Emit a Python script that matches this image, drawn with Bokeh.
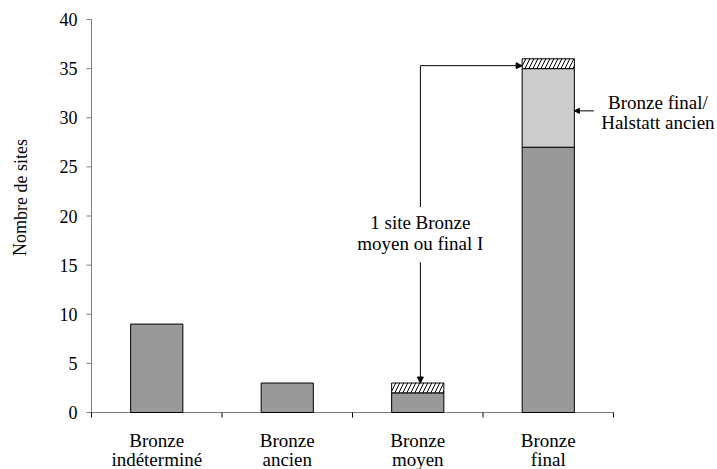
from bokeh.plotting import figure
from bokeh.models import (ColumnDataSource, Arrow, NormalHead, Range1d)
from bokeh.core.properties import value
from bokeh.embed import file_html
from bokeh.resources import INLINE

# ---- data ----
categories = ["Bronze\nindéterminé", "Bronze\nancien", "Bronze\nmoyen", "Bronze\nfinal"]
bronze = [9, 3, 2, 27]            # dark grey
bf_halstatt = [0, 0, 0, 8]        # light grey: Bronze final / Halstatt ancien
incertain = [0, 0, 1, 1]          # hatched: 1 site Bronze moyen ou final I
y_ticks = [0, 5, 10, 15, 20, 25, 30, 35, 40]
y_label = "Nombre de sites"
note_uncertain = ["1 site Bronze", "moyen ou final I"]
note_halstatt = ["Bronze final/", "Halstatt ancien"]

FONT = value("Liberation Serif")
W = 0.4
n = len(categories)
xs = list(range(n))

# whole canvas is the frame; axes are drawn by hand so nothing is clipped
PXX = 130.5   # px per category
PXY = 9.825   # px per site
FW, FH = 717, 469
x0 = -0.5 - 91 / PXX
x1 = x0 + FW / PXX
y1 = 40 + 19 / PXY
y0 = y1 - FH / PXY

p = figure(width=FW, height=FH, output_backend="svg", toolbar_location=None,
           x_range=Range1d(x0, x1), y_range=Range1d(y0, y1), min_border=0)
p.outline_line_color = None
p.xaxis.visible = False
p.yaxis.visible = False
p.xgrid.visible = False
p.ygrid.visible = False
p.background_fill_color = "white"
p.border_fill_color = "white"

AX = "#7f7f7f"
xl, xr = -0.5, n - 0.5
ymax = y_ticks[-1]

# axis lines
p.segment(x0=[xl, xl], y0=[0, 0], x1=[xl, xr], y1=[ymax, 0], line_color=AX, line_width=1)
# y ticks
tick_dx = 5 / PXX
p.segment(x0=[xl - tick_dx] * len(y_ticks), y0=y_ticks, x1=[xl] * len(y_ticks), y1=y_ticks,
          line_color=AX, line_width=1)
p.text(x=[xl] * len(y_ticks), y=y_ticks, text=[str(t) for t in y_ticks], x_offset=-14,
       text_align="right", text_baseline="middle", text_font=FONT,
       text_font_size="18px", text_color="black")
# x ticks (category boundaries)
bounds = [i - 0.5 for i in range(n + 1)]
tick_dy = 5 / PXY
p.segment(x0=bounds, y0=[0] * len(bounds), x1=bounds, y1=[-tick_dy] * len(bounds),
          line_color="black", line_width=1)

# category labels
line1 = [c.split("\n")[0] for c in categories]
line2 = [c.split("\n")[1] for c in categories]
for lab, off in ((line1, 28), (line2, 47)):
    p.text(x=xs, y=[0] * n, text=lab, y_offset=off, text_align="center",
           text_baseline="middle", text_font=FONT, text_font_size="19px", text_color="black")

# y axis title
p.text(x=[(20 - 91) / PXX - 0.5], y=[(412 - 197) / PXY], text=[y_label], angle=1.5707963,
       text_align="center", text_baseline="middle", text_font=FONT,
       text_font_size="18px", text_color="black")

def stack_source(bottoms, tops):
    d = dict(x=[], b=[], t=[])
    for i, (b, t) in enumerate(zip(bottoms, tops)):
        if t > b:
            d["x"].append(i); d["b"].append(b); d["t"].append(t)
    return ColumnDataSource(d)

lvl1 = bronze
lvl2 = [a + b for a, b in zip(lvl1, bf_halstatt)]
lvl3 = [a + b for a, b in zip(lvl2, incertain)]

p.vbar(x="x", bottom="b", top="t", width=W, source=stack_source([0] * n, lvl1),
       fill_color="#999999", line_color="black", line_width=1)
p.vbar(x="x", bottom="b", top="t", width=W, source=stack_source(lvl1, lvl2),
       fill_color="#cccccc", line_color="black", line_width=1)
p.vbar(x="x", bottom="b", top="t", width=W, source=stack_source(lvl2, lvl3),
       fill_color="white", line_color="black", line_width=1,
       hatch_pattern="/", hatch_color="black", hatch_scale=8, hatch_weight=1)

# annotation 1: 1 site Bronze moyen ou final I
i_m, i_f = 2, 3
xv = i_m + 0.02
y_corner = lvl2[i_f] + 0.3
head = dict(fill_color="black", line_color="black")
p.add_layout(Arrow(x_start=xv, y_start=y_corner, x_end=i_f - W / 2, y_end=y_corner,
                   line_color="black", line_width=1, end=NormalHead(size=6, **head)))
p.add_layout(Arrow(x_start=xv, y_start=y_corner, x_end=xv, y_end=20.9,
                   line_color="black", line_width=1, end=None))
p.add_layout(Arrow(x_start=xv, y_start=15.3, x_end=xv, y_end=lvl3[i_m],
                   line_color="black", line_width=1, end=NormalHead(size=6, **head)))
p.text(x=[xv, xv], y=[19.3, 17.2], text=note_uncertain, text_align="center",
       text_baseline="middle", text_font=FONT, text_font_size="19px", text_color="black")

# annotation 2: Bronze final / Halstatt ancien
y_arr = 30.7
p.add_layout(Arrow(x_start=3.35, y_start=y_arr, x_end=i_f + W / 2, y_end=y_arr,
                   line_color="black", line_width=1, end=NormalHead(size=5, **head)))
p.text(x=[3.84, 3.84], y=[31.6, 29.5], text=note_halstatt, text_align="center",
       text_baseline="middle", text_font=FONT, text_font_size="19px", text_color="black")

open("out.html", "w").write(file_html(p, INLINE))
